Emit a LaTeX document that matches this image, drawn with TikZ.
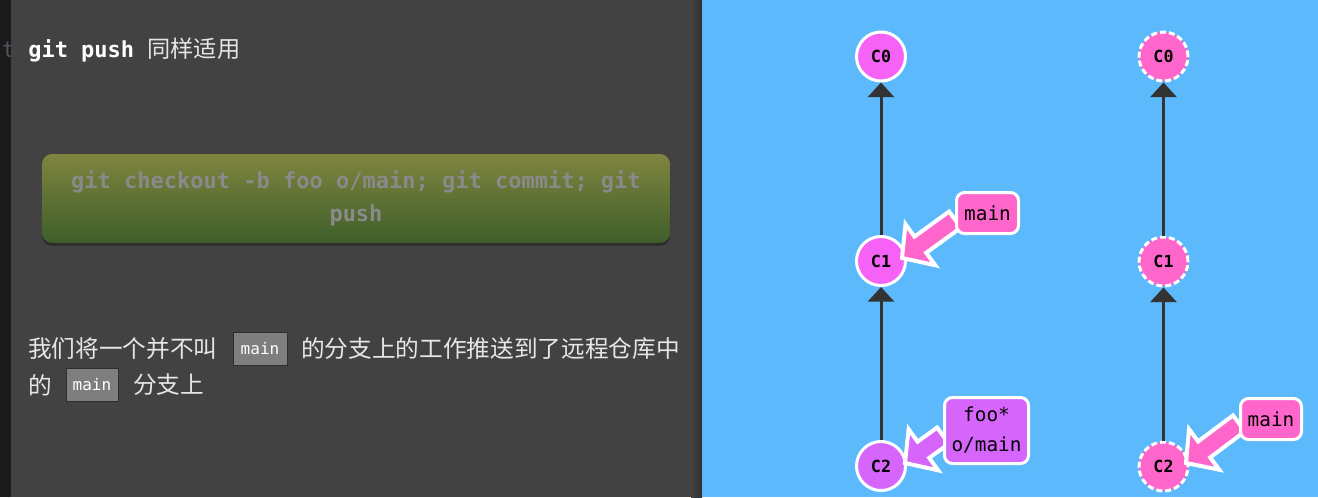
\documentclass[tikz,border=0pt]{standalone}
\usepackage{fontspec}
\setmonofont{DejaVu Sans Mono}
\newfontfamily\cjk{Noto Sans CJK SC}
\usetikzlibrary{arrows.meta,calc}
\definecolor{stripgray}{HTML}{1B1B1B}
\definecolor{panelgray}{HTML}{424242}
\definecolor{edgeshade}{HTML}{303030}
\definecolor{skyblue}{HTML}{5CB9FC}
\definecolor{commitpink}{HTML}{F562F5}
\definecolor{branchpink}{HTML}{FF66CC}
\definecolor{headpurple}{HTML}{D666FB}
\definecolor{edgegray}{HTML}{333333}
\definecolor{olivetop}{HTML}{7F853F}
\definecolor{olivebottom}{HTML}{3E5E2A}
\definecolor{cmdgray}{HTML}{8A8A8A}
\definecolor{codegray}{HTML}{7E7E7E}
\definecolor{codeline}{HTML}{2E2E2E}
\definecolor{paper}{HTML}{E6E6E6}
\definecolor{ghosttext}{HTML}{4C545E}
\pgfdeclarelayer{ptrs}
\pgfdeclarelayer{front}
\pgfsetlayers{main,ptrs,front}

\newcommand{\branchptr}[3]{%
  \path ($(#2)!17pt!(#1)$) coordinate (hb) ;
  \filldraw[fill=#3, draw=white, line width=3pt, line join=miter, miter limit=4]
    ($(#1)!7.5pt!90:(#2)$) -- ($(hb)!7.5pt!90:(#2)$) -- ($(hb)!19pt!90:(#2)$) -- (#2)
    -- ($(hb)!19pt!-90:(#2)$) -- ($(hb)!7.5pt!-90:(#2)$) -- ($(#1)!7.5pt!-90:(#2)$) -- cycle ;
}

\begin{document}
\begin{tikzpicture}[x=0.75pt,y=-0.75pt,
  commit/.style={circle, draw=white, line width=2.25pt, minimum size=36.75pt, inner sep=0pt,
    font=\ttfamily\bfseries\fontsize{12.5}{12.5}\selectfont, text=black},
  ghost/.style={commit, fill=branchpink, dash pattern=on 4.5pt off 2.25pt},
  branch/.style={rectangle, rounded corners=6pt, draw=white, line width=2.25pt, fill=branchpink,
    inner sep=0pt, align=center, font=\ttfamily\fontsize{14.5}{22.5}\selectfont, text=black},
  edge/.style={draw=edgegray, line width=2.25pt, -{Triangle[width=19.5pt,length=11pt]}},
  codebox/.style={fill=codegray, draw=codeline, line width=0.75pt, inner sep=0pt,
    minimum height=24.75pt, font=\ttfamily\fontsize{12}{12}\selectfont, text=white},
  cjktext/.style={anchor=west, inner sep=0pt, text=paper, font=\cjk\fontsize{17.75}{17.75}\selectfont}]
\useasboundingbox (0,0) rectangle (1318,497) ;
\fill[stripgray] (0,0) rectangle (11,497) ;
\node[anchor=base west, inner sep=0pt, text=ghosttext, font=\ttfamily\fontsize{16.5}{16.5}\selectfont] (cut) at (1.5,57) {t} ;
\fill[panelgray] (11,0) rectangle (702,497) ;
\shade[left color=panelgray, right color=edgeshade] (691,0) rectangle (702,497) ;
\fill[skyblue] (702,0) rectangle (1318,497) ;

\node[anchor=base west, inner sep=0pt, text=white, font=\ttfamily\bfseries\fontsize{16.5}{16.5}\selectfont] (title) at (28,57)
  {git push {\cjk\mdseries\fontsize{17.4}{17.4}\selectfont\color{paper}同样适用}} ;

\fill[black, opacity=0.35, rounded corners=7.5pt] (42,156.5) rectangle (670,245.5) ;
\node[rectangle, rounded corners=7.5pt, top color=olivetop, bottom color=olivebottom,
  minimum width=471pt, minimum height=66.75pt, inner sep=0pt, align=center, text=cmdgray,
  font=\ttfamily\bfseries\fontsize{16.5}{24.75}\selectfont] (cmd) at (356,198.5)
  {git checkout -b foo o/main; git commit; git\\push} ;

\node[cjktext] (p1a) at (28,348.5) {我们将一个并不叫} ;
\node[codebox, minimum width=40.5pt] (k1) at (260,348.5) {main} ;
\node[cjktext] (p1b) at (301,348.5) {的分支上的工作推送到了远程仓库中} ;
\node[cjktext] (p2a) at (28,385) {的} ;
\node[codebox, minimum width=39pt] (k2) at (92,385) {main} ;
\node[cjktext] (p2b) at (133,385) {分支上} ;

\node[commit, fill=commitpink] (c0) at (881,56.5) {C0} ;
\node[commit, fill=commitpink] (c1) at (881,261) {C1} ;
\node[commit, fill=headpurple] (c2) at (881,466) {C2} ;
\draw[edge] (c1) -- (c0) ;
\draw[edge] (c2) -- (c1) ;

\node[ghost] (r0) at (1163.5,56.5) {C0} ;
\node[ghost] (r1) at (1163.5,261.5) {C1} ;
\node[ghost] (r2) at (1163.5,466.5) {C2} ;
\draw[edge] (r1) -- (r0) ;
\draw[edge] (r2) -- (r1) ;

\begin{pgfonlayer}{front}
\node[branch, minimum width=46.5pt, minimum height=30.75pt] (mainL) at (987.5,213) {main} ;
\node[branch, fill=headpurple, minimum width=63pt, minimum height=49.5pt] (fooL) at (986.5,430.5) {foo*\\o/main} ;
\node[branch, minimum width=45.75pt, minimum height=30.75pt] (rmain) at (1271,419) {main} ;
\end{pgfonlayer}

\coordinate (pmain) at ($(mainL.west)!0.3!(mainL.south west)$) ;
\coordinate (pfoo) at ($(fooL.west)!0.15!(fooL.south west)$) ;
\coordinate (prmain) at ($(rmain.west)!0.2!(rmain.south west)$) ;
\coordinate (tmain) at ($(c1)+(21,-3)$) ;
\coordinate (tfoo) at ($(c2)+(24,-3)$) ;
\coordinate (trmain) at ($(r2)+(22.5,-3.5)$) ;
\begin{pgfonlayer}{ptrs}
\branchptr{pmain}{tmain}{branchpink}
\branchptr{pfoo}{tfoo}{headpurple}
\branchptr{prmain}{trmain}{branchpink}
\end{pgfonlayer}
\end{tikzpicture}
\end{document}
